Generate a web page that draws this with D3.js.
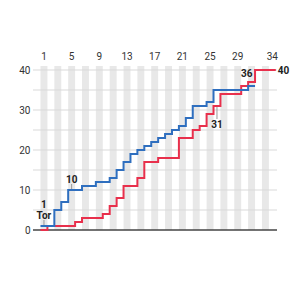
<!DOCTYPE html>
<html lang="en">
<head>
<meta charset="UTF-8">
<title>Goals per matchday</title>
<script src="https://d3js.org/d3.v7.min.js"></script>
<style>
  body { margin: 0; background: #fff; }
  svg text { font-family: Roboto, "Noto Sans", sans-serif; }
</style>
</head>
<body>
<svg width="300" height="300"></svg>
<script>
    // matchdays and cumulative goals
    var matchdays = d3.range(1, 35);
    var blueGoals = [1, 1, 5, 7, 10, 10, 11, 11, 12, 12, 13, 15, 17, 19, 20, 21, 22,
                     23, 24, 25, 26, 28, 31, 31, 32, 35, 35, 35, 35, 35, 36];
    var redGoals = [0, 1, 1, 1, 1, 2, 3, 3, 3, 4, 6, 8, 11, 11, 13, 17, 17,
                    18, 18, 18, 23, 23, 25, 26, 29, 31, 34, 34, 34, 36, 37, 40, 40, 40];
    var xTicks = [1, 5, 9, 13, 17, 21, 25, 29, 34];
    var yTicks = [0, 10, 20, 30, 40];
    var yGrid = [5, 10, 15, 20, 25, 30, 35, 40];

    var blue = "#2f6fbf", red = "#e8304c";

    var svg = d3.select("svg");
    var x = d3.scaleLinear().domain([0.5, 34.5]).range([40.5, 275.8]);
    var y = d3.scaleLinear().domain([0, 40]).range([230, 70]);
    var left = 33, right = 277;

    // alternating bands on odd matchdays
    svg.append("g").selectAll("rect")
        .data(matchdays.filter(function (d) { return d % 2 == 1; }))
        .enter().append("rect")
        .attr("x", function (d) { return x(d - 0.5); })
        .attr("width", function (d) { return x(d + 0.5) - x(d - 0.5); })
        .attr("y", y(41))
        .attr("height", y(0) - y(41))
        .attr("fill", "#e8e8e8");

    svg.append("g").selectAll("line")
        .data(yGrid)
        .enter().append("line")
        .attr("x1", left).attr("x2", right)
        .attr("y1", function (d) { return y(d); })
        .attr("y2", function (d) { return y(d); })
        .attr("stroke", "#d9d9d9")
        .attr("stroke-width", 1);

    svg.append("line")
        .attr("x1", left).attr("x2", right)
        .attr("y1", y(0)).attr("y2", y(0))
        .attr("stroke", "#444")
        .attr("stroke-width", 1.5);

    svg.append("g").selectAll("text")
        .data(yTicks)
        .enter().append("text")
        .attr("x", 30.5)
        .attr("y", function (d) { return y(d); })
        .attr("dy", "0.35em")
        .attr("text-anchor", "end")
        .attr("font-size", 10)
        .attr("fill", "#333")
        .text(function (d) { return d; });

    svg.append("g").selectAll("text")
        .data(xTicks)
        .enter().append("text")
        .attr("x", function (d) { return x(d); })
        .attr("y", 59.5)
        .attr("text-anchor", "middle")
        .attr("font-size", 10)
        .attr("fill", "#333")
        .text(function (d) { return d; });

    // each matchday covers the band from md-0.5 to md+0.5
    function stepPoints(vals) {
        var pts = vals.map(function (v, i) { return [matchdays[i] - 0.5, v]; });
        pts.push([matchdays[vals.length - 1] + 0.5, vals[vals.length - 1]]);
        return pts;
    }
    var line = d3.line()
        .x(function (d) { return x(d[0]); })
        .y(function (d) { return y(d[1]); })
        .curve(d3.curveStepAfter);

    svg.append("path")
        .datum(stepPoints(redGoals))
        .attr("d", line)
        .attr("fill", "none")
        .attr("stroke", red)
        .attr("stroke-width", 2);

    svg.append("path")
        .datum(stepPoints(blueGoals))
        .attr("d", line)
        .attr("fill", "none")
        .attr("stroke", blue)
        .attr("stroke-width", 2);

    // annotations
    var notes = [
        {vals: blueGoals, md: 1, lines: ["", "Tor"], side: "above", gap: 6},
        {vals: blueGoals, md: 5, lines: [""], side: "above", gap: 6},
        {vals: redGoals, md: 26, lines: [""], side: "below", gap: 13},
        {vals: redGoals, md: 30, lines: [""], side: "above", gap: 8, noLeader: true}
    ];
    notes.forEach(function (n) {
        var v = n.vals[n.md - 1];
        var cx = x(n.md), cy = y(v);
        n.lines[0] = String(v);
        if (n.side == "above") {
            if (!n.noLeader) {
                svg.append("line")
                    .attr("x1", cx).attr("x2", cx)
                    .attr("y1", cy - 1).attr("y2", cy - n.gap)
                    .attr("stroke", "#999").attr("stroke-width", 1);
            }
            var base = cy - n.gap - 1.5;
            n.lines.slice().reverse().forEach(function (t, i) {
                svg.append("text")
                    .attr("x", cx + (n.noLeader ? 2 : 0))
                    .attr("y", base - i * 10.5)
                    .attr("text-anchor", "middle")
                    .attr("font-size", 10)
                    .attr("font-weight", "bold")
                    .attr("fill", "#222")
                    .text(t);
            });
        } else {
            svg.append("line")
                .attr("x1", cx).attr("x2", cx)
                .attr("y1", cy + 1).attr("y2", cy + n.gap)
                .attr("stroke", "#999").attr("stroke-width", 1);
            svg.append("text")
                .attr("x", cx)
                .attr("y", cy + n.gap + 8.5)
                .attr("text-anchor", "middle")
                .attr("font-size", 10)
                .attr("font-weight", "bold")
                .attr("fill", "#222")
                .text(n.lines[0]);
        }
    });

    svg.append("text")
        .attr("x", x(34.5) + 2)
        .attr("y", y(redGoals[33]))
        .attr("dy", "0.35em")
        .attr("font-size", 10)
        .attr("font-weight", "bold")
        .attr("fill", "#222")
        .text(redGoals[33]);
</script>
</body>
</html>
